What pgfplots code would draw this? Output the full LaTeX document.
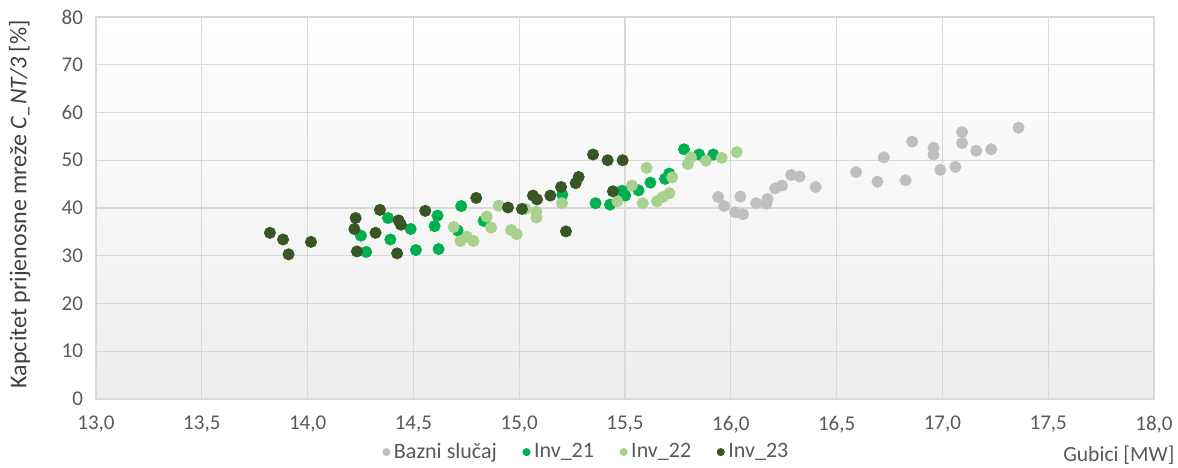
\documentclass[border=0pt]{standalone}
\usepackage{pgfplots}
\pgfplotsset{compat=1.18}
\usepackage{fontspec}
\setmainfont{Carlito}
\definecolor{cBaz}{RGB}{191,191,191}
\definecolor{cI21}{RGB}{0,176,80}
\definecolor{cI22}{RGB}{169,209,142}
\definecolor{cI23}{RGB}{55,86,35}
\definecolor{txt}{RGB}{89,89,89}
\definecolor{ytxt}{RGB}{64,64,64}
\definecolor{grd}{RGB}{217,217,217}
\begin{document}
\begin{tikzpicture}
\begin{axis}[
  name=ax,
  scale only axis,
  width=529pt, height=191pt,
  xmin=13, xmax=18, ymin=0, ymax=80,
  xtick={13,13.5,14,14.5,15,15.5,16,16.5,17,17.5,18},
  ytick={0,10,20,30,40,50,60,70,80},
  grid=major,
  grid style={grd, line width=0.6pt},
  axis line style={grd, line width=0.6pt},
  major tick length=0pt,
  axis background/.style={top color=white, bottom color=black!7},
  tick label style={font=\fontsize{10.5}{12}\selectfont, text=txt},
  /pgf/number format/assume math mode=true,
  xticklabel style={/pgf/number format/use comma, /pgf/number format/fixed, /pgf/number format/fixed zerofill, /pgf/number format/precision=1, yshift=-5pt},
  yticklabel style={xshift=-3pt},
  xlabel={Gubici [MW]},
  xlabel style={at={(axis description cs:1.026,-0.147)}, anchor=east, font=\fontsize{10.8}{12}\selectfont, text=txt},
  ylabel={Kapcitet prijenosne mreže \textit{C\_NT/3} [\%]},
  ylabel style={at={(axis description cs:-0.072,0.51)}, anchor=center, font=\fontsize{12}{14}\selectfont, text=ytxt},
  legend columns=-1,
  legend style={draw=none, fill=none, at={(axis description cs:0.4646,-0.139)}, anchor=center,
    font=\fontsize{11}{13}\selectfont, text=txt,
    /tikz/every even column/.append style={column sep=11pt}},
  legend image code/.code={\draw[#1, mark size=1.8pt] plot coordinates {(0.12cm,0cm)};},
]
\addplot[only marks, mark=*, mark size=2.8pt, color=cBaz] coordinates {
(15.940,42.3) (15.969,40.4) (16.021,39.1) (16.058,38.7) (16.045,42.4)
(16.120,41.0) (16.168,40.9) (16.174,41.9) (16.210,44.1) (16.242,44.7)
(16.285,46.9) (16.325,46.6) (16.401,44.4) (16.592,47.5) (16.693,45.5)
(16.723,50.6) (16.826,45.8) (16.857,53.9) (16.958,52.6) (16.958,51.2)
(16.990,48.0) (17.061,48.6) (17.093,55.9) (17.093,53.6) (17.160,52.0)
(17.231,52.3) (17.360,56.8)
};
\addlegendentry{Bazni slučaj}
\addplot[only marks, mark=*, mark size=2.8pt, color=cI21] coordinates {
(14.252,34.2) (14.277,30.8) (14.380,37.9) (14.391,33.4) (14.487,35.6)
(14.512,31.2) (14.614,38.4) (14.600,36.2) (14.619,31.4) (14.726,40.4)
(14.709,35.3) (14.832,37.3) (15.204,42.8) (15.361,41.0) (15.429,40.7)
(15.486,43.6) (15.501,42.6) (15.564,43.7) (15.620,45.3) (15.689,46.1)
(15.709,47.2) (15.779,52.3) (15.850,51.2) (15.917,51.2)
};
\addlegendentry{Inv\_21}
\addplot[only marks, mark=*, mark size=2.8pt, color=cI22] coordinates {
(14.690,36.0) (14.722,33.1) (14.753,34.0) (14.784,33.1) (14.846,38.2)
(14.867,35.9) (14.903,40.5) (14.962,35.4) (14.988,34.5) (15.029,39.8)
(15.081,39.2) (15.081,38.0) (15.202,41.0) (15.464,41.4) (15.533,44.7)
(15.584,41.0) (15.602,48.4) (15.651,41.4) (15.679,42.3) (15.710,43.1)
(15.723,46.4) (15.797,49.2) (15.812,50.6) (15.882,49.9) (15.957,50.5)
(16.028,51.7)
};
\addlegendentry{Inv\_22}
\addplot[only marks, mark=*, mark size=2.8pt, color=cI23] coordinates {
(13.822,34.8) (13.884,33.4) (13.910,30.3) (14.016,32.9) (14.227,37.9)
(14.221,35.6) (14.233,30.9) (14.321,34.8) (14.342,39.6) (14.430,37.4)
(14.441,36.5) (14.423,30.5) (14.556,39.4) (14.797,42.1) (14.947,40.1)
(15.013,39.8) (15.065,42.6) (15.084,41.8) (15.147,42.6) (15.198,44.4)
(15.267,45.2) (15.281,46.5) (15.221,35.1) (15.349,51.2) (15.418,50.0)
(15.489,50.0) (15.443,43.5)
};
\addlegendentry{Inv\_23}
\end{axis}
\pgfresetboundingbox
\path[use as bounding box] ([xshift=-48pt,yshift=-34.5pt]ax.south west) rectangle ([xshift=12pt,yshift=8.5pt]ax.north east);
\end{tikzpicture}
\end{document}
